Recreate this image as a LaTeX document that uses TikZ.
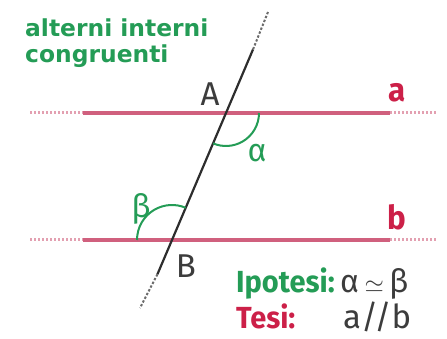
\documentclass[tikz,border=0pt]{standalone}
\usepackage{fontspec}
\setsansfont{Fira Sans}
\newfontfamily\condfont[FakeStretch=0.95]{Fira Sans}
\newfontfamily\headfont{DejaVu Sans}
\usetikzlibrary{calc}
\definecolor{geoGreen}{RGB}{36,156,86}
\definecolor{geoRed}{RGB}{204,32,72}
\definecolor{lineRose}{RGB}{208,96,126}
\definecolor{darkLine}{RGB}{45,45,45}
\definecolor{textGray}{RGB}{60,60,60}
\tikzset{
  parline/.style={lineRose,line width=3.6pt},
  parend/.style={lineRose!60,line width=3pt,dash pattern=on 2.4pt off 1.6pt},
  transv/.style={darkLine,line width=2.2pt},
  transend/.style={darkLine!70,line width=2pt,dash pattern=on 2.4pt off 1.8pt},
  anglearc/.style={geoGreen,line width=2pt},
  ptlbl/.style={font=\sffamily\fontsize{33}{33}\selectfont,text=textGray,inner sep=0pt},
  grklbl/.style={font=\sffamily\fontsize{32}{32}\selectfont,text=geoGreen,inner sep=0pt},
  linelbl/.style={font=\condfont\bfseries\fontsize{33}{33}\selectfont,text=geoRed,inner sep=0pt},
  boldlbl/.style={font=\condfont\bfseries\fontsize{30.5}{30.5}\selectfont,inner sep=0pt,anchor=base west},
  headlbl/.style={font=\headfont\bfseries\fontsize{23.4}{23.4}\selectfont,text=geoGreen,
                  inner sep=0pt,anchor=base west},
}

\begin{document}
\begin{tikzpicture}[x=1pt,y=1pt]
  \useasboundingbox (0,0) rectangle (447,339);
  % points
  \coordinate (A) at (226,226);
  \coordinate (B) at (172,99);
  \coordinate (top) at (268,327);
  \coordinate (topS) at ($(B)!1.5!(A)$);
  \coordinate (bot) at (140,31);
  \coordinate (botS) at ($(A)!1.27!(B)$);
  % parallel lines a and b
  \foreach \y/\n in {226/a,99/b}{
    \coordinate (\n L) at (30,\y);
    \coordinate (\n l) at (83,\y);
    \coordinate (\n r) at (390,\y);
    \coordinate (\n R) at (437,\y);
    \draw[parend] (\n L)--(\n l);
    \draw[parline] (\n l)--(\n r);
    \draw[parend] (\n r)--(\n R);
  }
  % transversal
  \draw[transend] (top)--(topS);
  \draw[transv] (topS)--(botS);
  \draw[transend] (botS)--(bot);
  % angles
  \draw[anglearc] ($(A)+(33,0)$) arc[start angle=0,end angle=-113,radius=33];
  \draw[anglearc] ($(B)+(-35,0)$) arc[start angle=180,end angle=67,radius=35];
  % labels
  \node[ptlbl] (lA) at (210,245) {A};
  \node[ptlbl] (lB) at (186,73) {B};
  \node[grklbl] (alpha) at (257,186) {α};
  \node[grklbl] (beta) at (141,130) {β};
  \node[linelbl] (la) at (397,246) {a};
  \node[linelbl] (lb) at (397,122) {b};
  \node[headlbl] (title1) at (25,302) {alterni interni};
  \node[headlbl] (title2) at (25,276) {congruenti};
  \node[boldlbl,text=geoGreen] (ipo) at (236,46) {Ipotesi:};
  \node[boldlbl,text=geoRed] (tesi) at (236,10) {Tesi:};
  \node[anchor=base west,inner sep=0pt,text=textGray,font=\sffamily\fontsize{32}{32}\selectfont]
    (hyp) at (340,46) {α\,$\simeq$\,β};
  \node[anchor=base west,inner sep=0pt,text=textGray,font=\sffamily\fontsize{33}{33}\selectfont]
    (thes) at (343,10) {a//b};
\end{tikzpicture}
\end{document}
